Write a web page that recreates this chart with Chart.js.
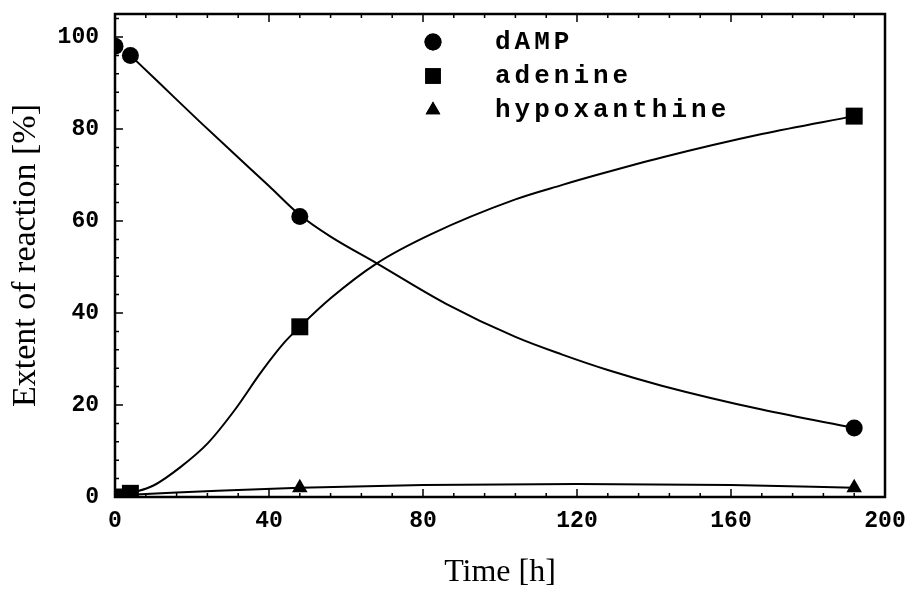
<!DOCTYPE html>
<html>
<head>
<meta charset="utf-8">
<script src="https://cdn.jsdelivr.net/npm/chart.js@4/dist/chart.umd.min.js"></script>
<style>
  html, body { margin: 0; padding: 0; background: #fff; }
  #wrap { width: 909px; height: 589px; }
</style>
</head>
<body>
<div id="wrap"><canvas id="grafico"></canvas></div>
<script>
// measured points
const tempos = [0, 4, 48, 192];
const damp = [98, 96, 61, 15];
const adenina = [0, 0.8, 37, 82.8];
const hipoxantina = [0, 0, 2, 2];

// fitted curves
const curvaDampT = [4, 12, 22, 32, 40, 48, 56, 68, 86, 104, 116, 128, 142, 168, 192];
const curvaDampV = [96, 89.6, 81.6, 73.8, 67.6, 61.3, 56.6, 50.8, 42, 34.8, 31, 27.6, 24.2, 19, 15];
const curvaAdeninaT = [4, 10, 17, 24, 31, 38, 44, 48, 56, 68, 82, 104, 116, 126, 142, 168, 192];
const curvaAdeninaV = [0.8, 2.5, 6.5, 11.6, 18.8, 27.2, 33.6, 37, 43.2, 50.8, 57.1, 64.7, 67.8, 70.2, 73.8, 78.9, 82.8];
const curvaHipoT = [0, 16, 32, 48, 80, 120, 160, 192];
const curvaHipoV = [0.3, 1, 1.5, 2, 2.6, 2.8, 2.6, 2];

const xTicks = [0, 40, 80, 120, 160, 200];
const yTicks = [0, 20, 40, 60, 80, 100];
const legendaNomes = ['dAMP', 'adenine', 'hypoxanthine'];

const monoFont = "'Liberation Mono', 'DejaVu Sans Mono', monospace";
const serifFont = "'Liberation Serif', 'DejaVu Serif', serif";

const pts = (xs, ys) => xs.map((x, i) => ({ x: x, y: ys[i] }));

function curva(xs, ys) {
    return {
        type: 'line',
        data: pts(xs, ys),
        borderColor: '#000',
        borderWidth: 2,
        pointRadius: 0,
        fill: false,
        cubicInterpolationMode: 'monotone'
    };
}

function marcador(ys, estilo, raio, nome) {
    return {
        type: 'scatter',
        label: nome,
        data: pts(tempos, ys),
        pointStyle: estilo,
        pointRadius: raio,
        pointHoverRadius: raio,
        backgroundColor: '#000',
        borderColor: '#000',
        borderWidth: 0,
        clip: 0
    };
}

// inward ticks, frame and legend
const moldura = {
    id: 'moldura',
    afterDatasetsDraw(chart) {
        const { ctx, chartArea: a, scales } = chart;
        const x = scales.x, y = scales.y;
        ctx.save();
        ctx.strokeStyle = '#000';
        ctx.lineWidth = 1.5;
        ctx.beginPath();
        for (let v = 0; v <= 200; v += 8) {
            const px = x.getPixelForValue(v);
            const len = v % 40 === 0 ? 8 : 4;
            ctx.moveTo(px, a.bottom); ctx.lineTo(px, a.bottom - len);
            ctx.moveTo(px, a.top); ctx.lineTo(px, a.top + len);
        }
        for (let v = 0; v <= 104; v += 4) {
            const py = y.getPixelForValue(v);
            const len = v % 20 === 0 ? 8 : 4;
            ctx.moveTo(a.left, py); ctx.lineTo(a.left + len, py);
        }
        ctx.stroke();
        ctx.lineWidth = 2.5;
        ctx.strokeRect(a.left, a.top, a.right - a.left, a.bottom - a.top);

        // legend
        const marcadores = chart.data.datasets.filter(d => d.type === 'scatter');
        marcadores.forEach((d, i) => {
            const ly = 42 + i * 34;
            Chart.helpers.drawPoint(ctx, {
                pointStyle: d.pointStyle,
                radius: d.pointStyle === 'rect' ? 11 : 8.5,
                rotation: 0,
                borderWidth: 0
            }, 433, ly);
            ctx.fillStyle = '#000';
            ctx.fill();
            ctx.font = 'bold 26px ' + monoFont;
            ctx.letterSpacing = '4px';
            ctx.textBaseline = 'middle';
            ctx.textAlign = 'left';
            ctx.fillText(d.label, 495, ly);
            ctx.letterSpacing = '0px';
        });
        ctx.restore();
    }
};

new Chart(document.getElementById('grafico'), {
    data: {
        datasets: [
            curva(curvaDampT, curvaDampV),
            curva(curvaAdeninaT, curvaAdeninaV),
            curva(curvaHipoT, curvaHipoV),
            marcador(damp, 'circle', 8.5, legendaNomes[0]),
            marcador(adenina, 'rect', 12, legendaNomes[1]),
            marcador(hipoxantina, 'triangle', 9, legendaNomes[2])
        ]
    },
    options: {
        responsive: true,
        maintainAspectRatio: false,
        animation: false,
        layout: { padding: { top: 14, right: 24 } },
        plugins: { legend: { display: false }, tooltip: { enabled: false } },
        scales: {
            x: {
                type: 'linear',
                min: 0,
                max: 200,
                afterFit: s => { s.height = 92; s.paddingLeft = 0; s.paddingRight = 0; },
                afterBuildTicks: s => { s.ticks = xTicks.map(v => ({ value: v })); },
                grid: { display: false },
                border: { display: false },
                ticks: {
                    color: '#000',
                    padding: 2,
                    font: { family: monoFont, size: 23, weight: 'bold' }
                },
                title: {
                    display: true,
                    text: 'Time [h]',
                    color: '#000',
                    padding: { top: 0, bottom: 0 },
                    font: { family: serifFont, size: 32, lineHeight: 1.0 }
                }
            },
            y: {
                type: 'linear',
                min: 0,
                max: 105,
                afterFit: s => { s.width = 115; s.paddingTop = 0; s.paddingBottom = 0; },
                afterBuildTicks: s => { s.ticks = yTicks.map(v => ({ value: v })); },
                grid: { display: false },
                border: { display: false },
                ticks: {
                    color: '#000',
                    padding: 8,
                    font: { family: monoFont, size: 23, weight: 'bold' }
                },
                title: {
                    display: true,
                    text: 'Extent of reaction [%]',
                    color: '#000',
                    padding: { top: 6, bottom: 0 },
                    font: { family: serifFont, size: 34 }
                }
            }
        }
    },
    plugins: [moldura]
});
</script>
</body>
</html>
